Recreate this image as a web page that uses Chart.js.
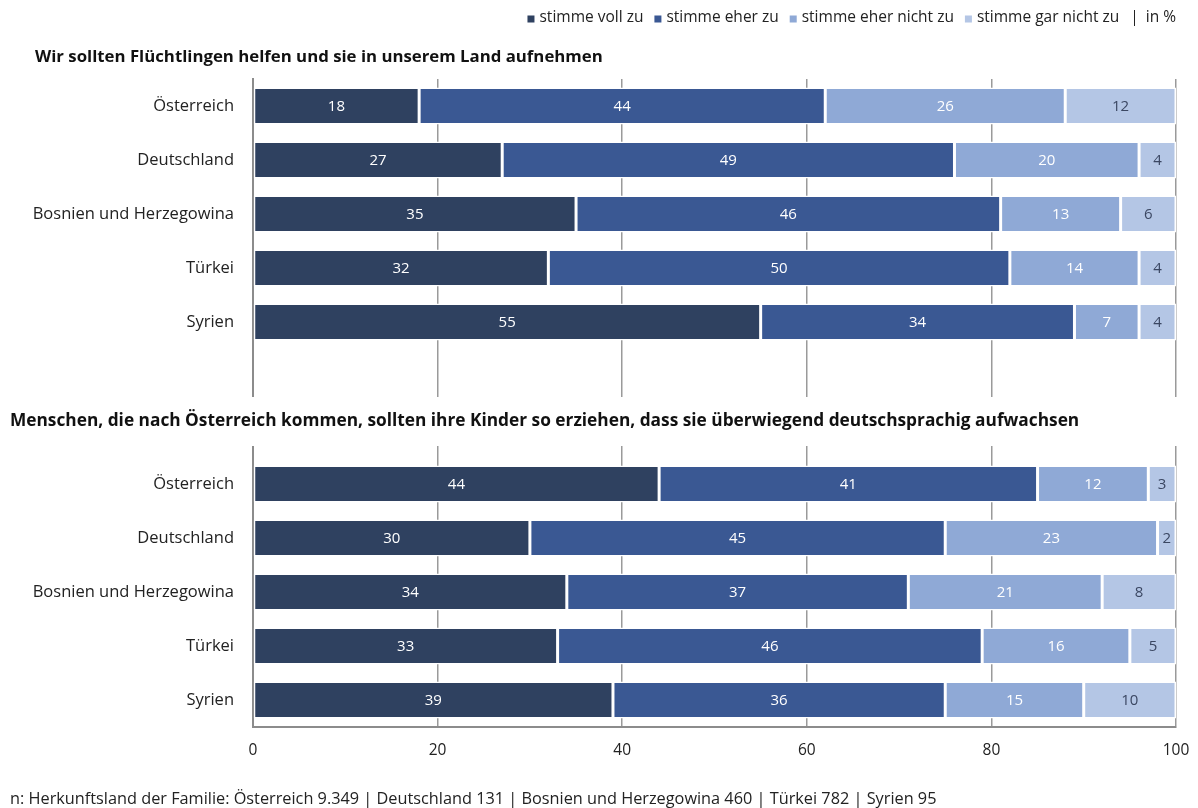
<!DOCTYPE html>
<html lang="de">
<head>
<meta charset="utf-8">
<script src="https://cdn.jsdelivr.net/npm/chart.js@4.4.1/dist/chart.umd.min.js"></script>
<style>
html, body { margin:0; padding:0; background:#ffffff; overflow:hidden; }
#wrap { width:1198px; height:808px; position:relative; }
canvas { display:block; }
</style>
</head>
<body>
<div id="wrap"><canvas id="survey_chart"></canvas></div>
<script>
var countries = ['Österreich', 'Deutschland', 'Bosnien und Herzegowina', 'Türkei', 'Syrien'];
var answers = ['stimme voll zu', 'stimme eher zu', 'stimme eher nicht zu', 'stimme gar nicht zu'];
var colors = ['#2f4160', '#3a5893', '#8fa9d6', '#b4c6e5'];
var question_1 = 'Wir sollten Flüchtlingen helfen und sie in unserem Land aufnehmen';
var question_2 = 'Menschen, die nach Österreich kommen, sollten ihre Kinder so erziehen, dass sie überwiegend deutschsprachig aufwachsen';
var footnote = 'n: Herkunftsland der Familie: Österreich 9.349 | Deutschland 131 | Bosnien und Herzegowina 460 | Türkei 782 | Syrien 95';
var unit = 'in %';

// question 1, by answer (order of countries above)
var q1_voll = [18, 27, 35, 32, 55];
var q1_eher = [44, 49, 46, 50, 34];
var q1_eher_nicht = [26, 20, 13, 14, 7];
var q1_gar_nicht = [12, 4, 6, 4, 4];
// question 2
var q2_voll = [44, 30, 34, 33, 39];
var q2_eher = [41, 45, 37, 46, 36];
var q2_eher_nicht = [12, 23, 21, 16, 15];
var q2_gar_nicht = [3, 2, 8, 5, 10];

var x_min = 0, x_max = 100, x_step = 20;

var font_family = "'Open Sans', 'Noto Sans', sans-serif";
var gap = ['', ''];   // two empty rows between the questions
var labels = countries.concat(gap, countries);

function series(a, b){
    return a.concat([null, null], b);
}
var data = [
    series(q1_voll, q2_voll),
    series(q1_eher, q2_eher),
    series(q1_eher_nicht, q2_eher_nicht),
    series(q1_gar_nicht, q2_gar_nicht)
];

var textPlugin = {
    id: 'texts',
    afterDatasetsDraw: function(chart){
        var ctx = chart.ctx;
        ctx.save();
        ctx.font = '15px ' + font_family;
        ctx.textAlign = 'center';
        ctx.textBaseline = 'middle';
        chart.data.datasets.forEach(function(ds, i){
            var meta = chart.getDatasetMeta(i);
            meta.data.forEach(function(bar, j){
                var v = ds.data[j];
                if (v === null || v === undefined) return;
                var p = bar.getProps(['x', 'y', 'base'], true);
                ctx.fillStyle = i == 3 ? '#3b4762' : '#ffffff';
                ctx.fillText(v, (p.x + p.base) / 2, p.y + 1);
            });
        });
        ctx.restore();
    },
    afterDraw: function(chart){
        var ctx = chart.ctx;
        var area = chart.chartArea;
        var y = chart.scales.y;
        ctx.save();
        ctx.textBaseline = 'middle';
        ctx.textAlign = 'left';

        // title of first block
        ctx.fillStyle = '#111111';
        ctx.font = 'bold 16.8px ' + font_family;
        ctx.fillText(question_1, 35, area.top - 22);

        // title of second block, on a white band over the grid
        var ty = y.getPixelForValue(6) - 9;
        ctx.fillStyle = '#ffffff';
        ctx.fillRect(0, ty - 24, chart.width, 49);
        ctx.fillStyle = '#111111';
        ctx.font = 'bold 17.3px ' + font_family;
        ctx.fillText(question_2, 10, ty);

        // footnote
        ctx.font = '16.3px ' + font_family;
        ctx.fillStyle = '#222222';
        ctx.fillText(footnote, 10, chart.height - 9);

        // legend, right aligned
        ctx.font = '15.5px ' + font_family;
        var ly = area.top - 61;
        var box = 7, boxGap = 5, itemGap = 11;
        var widths = chart.data.datasets.map(function(ds){ return box + boxGap + ctx.measureText(ds.label).width; });
        var unitW = ctx.measureText('|').width + 7 + ctx.measureText(unit).width;
        var total = widths.reduce(function(a, b){ return a + b + itemGap; }, 0) + unitW;
        var x = area.right - total;
        chart.data.datasets.forEach(function(ds, i){
            ctx.fillStyle = ds.backgroundColor;
            ctx.fillRect(x, ly - box / 2 + 1, box, box);
            ctx.fillStyle = '#222222';
            ctx.fillText(ds.label, x + box + boxGap, ly);
            x += widths[i] + itemGap;
        });
        ctx.fillText('|', x, ly);
        ctx.fillText(unit, x + ctx.measureText('|').width + 7, ly);
        ctx.restore();
    }
};

var chart = new Chart(document.getElementById('survey_chart').getContext('2d'), {
    type: 'bar',
    data: {
        labels: labels,
        datasets: answers.map(function(a, i){
            return {
                label: a,
                data: data[i],
                backgroundColor: colors[i],
                borderColor: '#ffffff',
                borderWidth: 1.5,
                borderSkipped: false,
                categoryPercentage: 1,
                barPercentage: 0.685
            };
        })
    },
    options: {
        indexAxis: 'y',
        responsive: true,
        maintainAspectRatio: false,
        animation: false,
        layout: {
            padding: { top: 79, right: 22, bottom: 41, left: 0 }
        },
        scales: {
            x: {
                stacked: true,
                min: x_min,
                max: x_max,
                ticks: {
                    stepSize: x_step,
                    color: '#222222',
                    padding: 14,
                    font: { family: font_family, size: 15.5 }
                },
                grid: {
                    color: function(c){ return c.tick && c.tick.value === x_min ? 'rgba(0,0,0,0)' : '#9a9a9a'; },
                    lineWidth: 1.5,
                    drawTicks: false
                },
                border: { color: '#8c8c8c', width: 2 },
                afterFit: function(s){
                    s.height = 40;
                    s.paddingRight = 0;   // let the layout padding decide the right edge
                }
            },
            y: {
                stacked: true,
                z: 1,
                ticks: {
                    color: '#222222',
                    padding: 19,
                    font: { family: font_family, size: 16.5 }
                },
                grid: { display: false, drawTicks: false },
                border: { color: '#8c8c8c', width: 2 },
                afterFit: function(s){ s.width = 253; }
            }
        },
        plugins: {
            legend: { display: false },
            tooltip: { enabled: false }
        }
    },
    plugins: [textPlugin]
});
</script>
</body>
</html>
